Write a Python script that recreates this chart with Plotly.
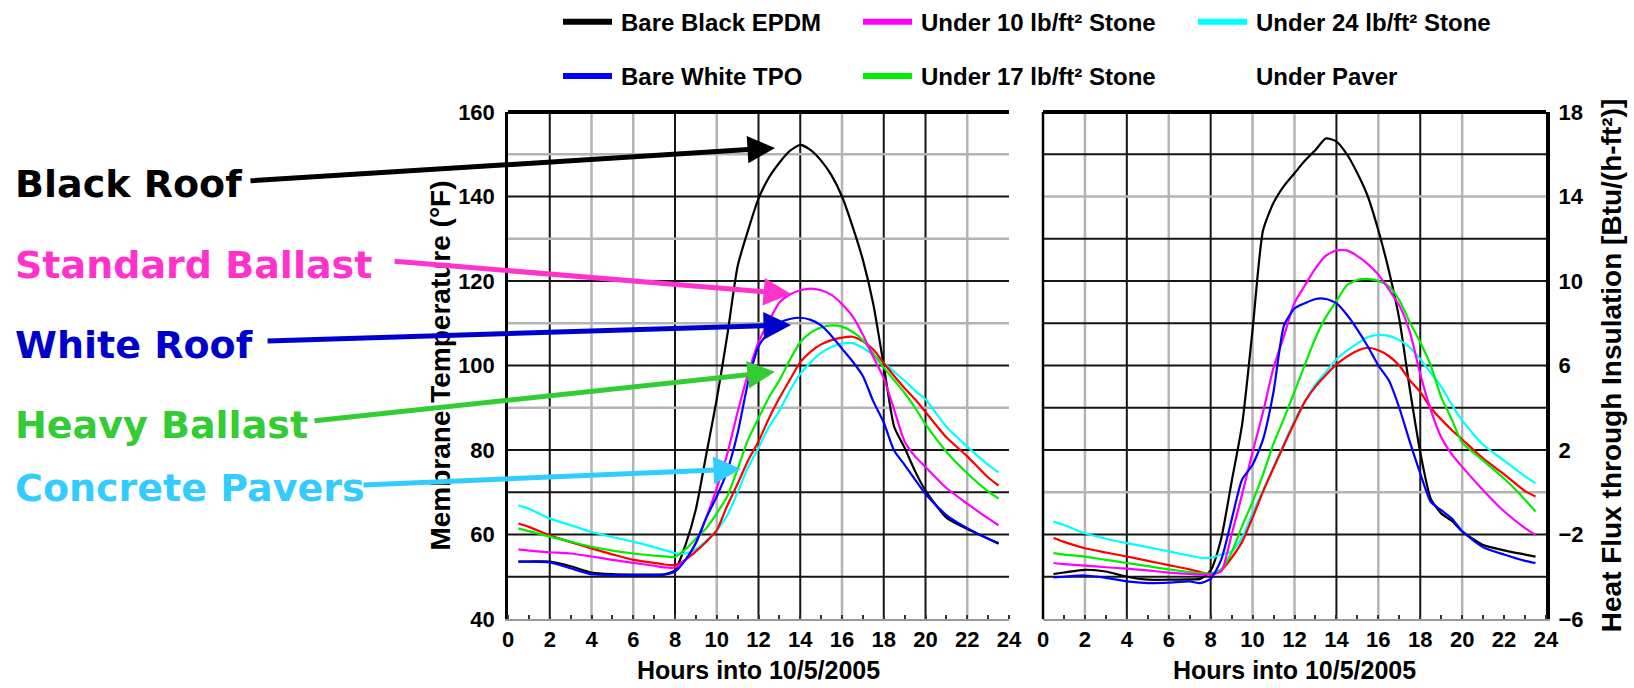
import plotly.graph_objects as go

W, H = 1634, 688

# ---------------- data ----------------
hours = [0.5, 1, 2, 3, 4, 5, 6, 7, 7.5, 8, 8.5, 9, 9.5, 10, 10.5, 11, 11.5, 12, 12.5, 13,
         13.5, 14, 14.5, 15, 15.5, 16, 16.5, 17, 17.5, 18, 18.5, 19, 19.5, 20, 21, 22, 23, 23.5]

# Membrane temperature (°F)
temp_black = [53.6, 53.6, 53.6, 52.5, 51.0, 50.6, 50.5, 50.5, 50.6, 51.5, 57.5, 66.0, 79.0, 92.0, 107.0,
              123.5, 132.0, 139.5, 144.5, 148.0, 150.8, 152.2, 151.0, 148.5, 145.0, 140.0, 133.0, 125.0,
              114.5, 100.0, 85.5, 80.5, 75.0, 70.4, 64.0, 61.3, 59.0, 57.8]
temp_white = [53.6, 53.6, 53.4, 52.0, 50.6, 50.4, 50.4, 50.4, 50.5, 51.2, 54.0, 58.0, 64.0, 69.0, 75.0,
              84.0, 96.0, 104.5, 108.0, 110.1, 111.0, 111.3, 110.8, 109.5, 107.0, 104.0, 101.0, 97.5,
              91.5, 86.5, 79.8, 76.5, 73.0, 69.6, 64.6, 61.5, 59.0, 58.0]
temp_10 = [56.5, 56.2, 55.8, 55.5, 54.8, 54.0, 53.3, 52.6, 52.2, 52.2, 54.0, 58.0, 64.0, 71.0, 79.0,
           89.0, 98.0, 105.5, 110.5, 114.9, 116.8, 117.8, 118.2, 117.8, 116.7, 114.5, 111.7, 107.3,
           102.0, 97.0, 89.5, 82.0, 78.5, 76.0, 71.0, 67.3, 63.8, 62.2]
temp_17 = [61.4, 60.8, 59.5, 58.3, 57.1, 56.2, 55.5, 55.0, 54.8, 54.7, 56.5, 59.0, 61.5, 65.0, 69.0,
           75.5, 82.5, 87.5, 92.5, 96.5, 101.3, 105.5, 107.8, 109.0, 109.5, 109.2, 108.0, 106.0,
           102.8, 99.5, 96.5, 93.5, 90.0, 86.1, 79.6, 74.5, 70.2, 68.5]
temp_24 = [66.9, 66.1, 63.8, 62.2, 60.6, 59.4, 58.3, 57.0, 56.3, 55.6, 55.5, 56.5, 58.5, 61.0, 64.5,
           70.0, 75.9, 80.5, 85.5, 89.3, 94.0, 98.0, 100.8, 103.0, 104.4, 105.2, 105.3, 104.2,
           102.5, 100.6, 98.5, 96.4, 94.0, 92.0, 85.5, 80.8, 76.5, 74.7]
temp_paver = [62.6, 61.8, 59.8, 58.2, 56.7, 55.3, 54.0, 53.3, 52.9, 52.8, 54.0, 56.0, 58.3, 61.0, 66.8,
              72.0, 77.5, 82.0, 87.5, 92.3, 96.6, 100.8, 103.3, 105.0, 106.0, 106.6, 106.8, 105.7,
              103.8, 100.6, 97.5, 94.6, 92.0, 89.0, 83.0, 78.5, 73.5, 71.6]

# Heat flux through insulation (Btu/(h-ft²))
flux_black = [-3.87, -3.8, -3.67, -3.75, -4.0, -4.14, -4.14, -4.12, -4.1, -3.7, -2.2, 0.5, 3.2, 7.7, 12.4,
              13.7, 14.5, 15.1, 15.7, 16.2, 16.75, 16.6, 16.0, 15.1, 14.0, 12.4, 10.5, 8.2, 4.9, 1.9,
              -0.3, -1.0, -1.35, -1.85, -2.5, -2.75, -2.95, -3.05]
flux_white = [-4.03, -4.0, -3.94, -4.05, -4.22, -4.3, -4.28, -4.22, -4.3, -4.1, -3.2, -1.3, 0.6, 1.3, 2.5,
              4.76, 7.9, 8.7, 8.95, 9.15, 9.15, 8.95, 8.4, 7.7, 6.9, 6.0, 5.3, 4.0, 2.4, 0.9,
              -0.45, -0.85, -1.23, -1.85, -2.6, -2.95, -3.25, -3.35]
flux_10 = [-3.35, -3.4, -3.47, -3.55, -3.62, -3.7, -3.8, -3.87, -3.9, -3.88, -3.75, -2.0, -0.1, 1.9, 3.8,
           5.9, 7.4, 8.97, 9.8, 10.6, 11.2, 11.45, 11.45, 11.18, 10.8, 10.3, 9.6, 8.85, 7.6, 5.6,
           3.9, 2.6, 1.8, 1.2, 0.1, -0.9, -1.7, -2.02]
flux_17 = [-2.88, -2.95, -3.05, -3.2, -3.35, -3.5, -3.65, -3.78, -3.83, -3.85, -3.65, -2.85, -1.6, -0.45, 0.85,
           2.3, 3.5, 4.76, 6.05, 7.3, 8.3, 9.05, 9.8, 10.05, 10.1, 10.0, 9.75, 9.1, 8.05, 7.1,
           6.0, 4.5, 3.45, 2.35, 1.5, 0.65, -0.35, -0.91]
flux_24 = [-1.39, -1.55, -1.94, -2.2, -2.41, -2.6, -2.8, -3.0, -3.1, -3.1, -2.95, -2.8, -2.15, -1.0, 0.1,
           1.2, 2.3, 3.4, 4.3, 5.1, 5.7, 6.3, 6.7, 7.05, 7.35, 7.45, 7.4, 7.2, 6.85, 6.3,
           5.65, 5.0, 4.15, 3.4, 2.25, 1.5, 0.75, 0.43]
flux_paver = [-2.17, -2.35, -2.65, -2.85, -3.04, -3.25, -3.45, -3.65, -3.78, -3.9, -3.7, -3.1, -2.35, -1.2, 0.03,
              1.15, 2.24, 3.3, 4.3, 5.0, 5.55, 6.05, 6.42, 6.7, 6.84, 6.72, 6.45, 6.0, 5.3, 4.75,
              4.0, 3.45, 2.95, 2.5, 1.6, 0.85, 0.05, -0.2]

hour_ticks = list(range(0, 25, 2))
temp_ticks = [40, 60, 80, 100, 120, 140, 160]
flux_ticks = [-6, -2, 2, 6, 10, 14, 18]

x_title = "Hours into 10/5/2005"
legend_rows = [["Bare Black EPDM", "Under 10 lb/ft² Stone", "Under 24 lb/ft² Stone"],
               ["Bare White TPO", "Under 17 lb/ft² Stone", "Under Paver"]]

callout_labels = ["Black Roof", "Standard Ballast", "White Roof", "Heavy Ballast", "Concrete Pavers"]

# ---------------- styles ----------------
series = [
    ("Bare Black EPDM", "#000000", temp_black, flux_black),
    ("Under 24 lb/ft² Stone", "#00ffff", temp_24, flux_24),
    ("Under Paver", "#ff0000", temp_paver, flux_paver),
    ("Under 17 lb/ft² Stone", "#00ee00", temp_17, flux_17),
    ("Under 10 lb/ft² Stone", "#ff00ff", temp_10, flux_10),
    ("Bare White TPO", "#0000ff", temp_white, flux_white),
]
colors = {n: c for n, c, _, _ in series}
no_swatch = {"Under Paver"}

SANS = "Liberation Sans, Arial, sans-serif"
CALLOUT_FONT = "DejaVu Sans, Verdana, sans-serif"

L_X = (508, 1009)
R_X = (1043, 1546)
Y_PX = (112, 619)


def px(x):
    return x / W


def py(y):
    return 1 - y / H


fig = go.Figure()
for name, color, t, q in series:
    fig.add_trace(go.Scatter(x=hours, y=t, name=name, mode="lines", showlegend=False,
                             line=dict(color=color, width=2.2, shape="spline", smoothing=0.6),
                             xaxis="x", yaxis="y"))
    fig.add_trace(go.Scatter(x=hours, y=q, name=name, mode="lines", showlegend=False,
                             line=dict(color=color, width=2.2, shape="spline", smoothing=0.6),
                             xaxis="x2", yaxis="y2"))

tickfont = dict(family=SANS, size=22, color="black", weight="bold")
ytitlefont = dict(family=SANS, size=28, color="black", weight="bold")

common_x = dict(range=[0, 24], tickvals=hour_ticks, ticks="", showgrid=False, zeroline=False,
                showline=True, linecolor="#9a9a9a", linewidth=1.5, tickfont=tickfont,
                ticklabelstandoff=0, automargin=False, fixedrange=True,
                minor=dict(ticks="inside", ticklen=4, tickwidth=2, tickcolor="#333", dtick=1))

fig.update_layout(
    width=W, height=H,
    margin=dict(l=0, r=0, t=0, b=0),
    paper_bgcolor="white", plot_bgcolor="white",
    showlegend=False,
    xaxis=dict(domain=[px(L_X[0]), px(L_X[1])], anchor="y", **common_x),
    xaxis2=dict(domain=[px(R_X[0]), px(R_X[1])], anchor="y2", **common_x),
    yaxis=dict(domain=[py(Y_PX[1]), py(Y_PX[0])], anchor="x", range=[40, 160], tickvals=temp_ticks,
               ticks="", showgrid=False, zeroline=False, showline=True, linecolor="black",
               linewidth=2.5, tickfont=tickfont, ticklabelstandoff=6, automargin=False,
               fixedrange=True,
               title=dict(text="Membrane Temperature (°F)", font=ytitlefont, standoff=0)),
    yaxis2=dict(domain=[py(Y_PX[1]), py(Y_PX[0])], anchor="x2", side="right", range=[-6, 18],
                tickvals=flux_ticks, ticks="", showgrid=False, zeroline=False, showline=True,
                linecolor="black", linewidth=4, tickfont=tickfont, ticklabelstandoff=4,
                automargin=False, fixedrange=True,
                title=dict(text="Heat Flux through Insulation [Btu/(h-ft²)]", font=ytitlefont,
                           standoff=20)),
)

# x-axis titles under each panel
for xa in ("x", "x2"):
    fig.add_annotation(x=0.5, y=py(670), xref=f"{xa} domain", yref="paper", text=x_title,
                       showarrow=False, xanchor="center", yanchor="middle",
                       font=dict(family=SANS, size=25, color="black", weight="bold"))

# ---------------- grid lines ----------------
GRID = {"k": dict(color="#151515", width=2), "g": dict(color="#b4b4b4", width=2.5)}
left_v = [(2, "k"), (4, "g"), (6, "g"), (8, "k"), (10, "g"), (12, "k"), (14, "k"), (16, "g"),
          (18, "k"), (20, "k"), (22, "g")]
left_h = [(50, "k"), (60, "k"), (70, "k"), (80, "k"), (90, "g"), (100, "k"), (110, "g"),
          (120, "k"), (130, "g"), (140, "k"), (150, "g")]
right_v = [(2, "g"), (4, "k"), (6, "g"), (8, "k"), (10, "g"), (12, "g"), (14, "k"), (16, "g"),
           (18, "k"), (20, "g")]
right_h = [(-4, "k"), (-2, "k"), (0, "g"), (2, "k"), (4, "k"), (6, "k"), (8, "k"), (10, "k"),
           (12, "k"), (14, "g"), (16, "k")]

for xa, ya, vlist, hlist in [("x", "y", left_v, left_h), ("x2", "y2", right_v, right_h)]:
    for v, k in vlist:
        fig.add_shape(type="line", xref=xa, yref=f"{ya} domain", x0=v, x1=v, y0=0, y1=1,
                      line=GRID[k], layer="below")
    for v, k in hlist:
        fig.add_shape(type="line", xref=f"{xa} domain", yref=ya, x0=0, x1=1, y0=v, y1=v,
                      line=GRID[k], layer="below")
    # thick top border
    fig.add_shape(type="line", xref=f"{xa} domain", yref=f"{ya} domain", x0=0, x1=1, y0=1, y1=1,
                  line=dict(color="black", width=4), layer="above")

# left border of right panel
fig.add_shape(type="line", xref="x2 domain", yref="y2 domain", x0=0, x1=0, y0=0, y1=1,
              line=dict(color="black", width=2.5), layer="above")

# ---------------- legend (top) ----------------
col_x = [563, 863, 1198]
row_y = [21.7, 76]
for r, row in enumerate(legend_rows):
    for c, name in enumerate(row):
        x0 = col_x[c]
        yy = row_y[r]
        if name not in no_swatch:
            fig.add_shape(type="line", xref="paper", yref="paper", x0=px(x0), x1=px(x0 + 49),
                          y0=py(yy), y1=py(yy), line=dict(color=colors[name], width=6))
        fig.add_annotation(x=px(x0 + 56), y=py(yy + 1), xref="paper", yref="paper", text=name,
                           showarrow=False, xanchor="left", yanchor="middle",
                           font=dict(family=SANS, size=24, color="black", weight="bold"))

# ---------------- callouts ----------------
callout_style = [
    # color, text centre y (px), arrow head (hours, °F), tail offset (px)
    ("#000000", 184, (12.79, 151.5), (-526, 33)),
    ("#ff33cc", 265, (13.56, 116.9), (-398, -33)),
    ("#0000cc", 345, (13.56, 109.6), (-525, 16)),
    ("#33cc33", 425, (12.79, 98.5), (-462, 49)),
    ("#33ccff", 488, (11.16, 75.5), (-379, 16)),
]
for label, (col, ty, head, off) in zip(callout_labels, callout_style):
    fig.add_annotation(x=px(13), y=py(ty), xref="paper", yref="paper", text=label, showarrow=False,
                       xanchor="left", yanchor="middle",
                       font=dict(family=CALLOUT_FONT, size=38, color=col, weight="bold"))
    fig.add_annotation(x=head[0], y=head[1], xref="x", yref="y", ax=off[0], ay=off[1],
                       axref="pixel", ayref="pixel", text="", showarrow=True, arrowhead=2,
                       arrowsize=1.1, arrowwidth=5, arrowcolor=col, standoff=0, startstandoff=0)

fig.write_html("out.html", config={"displayModeBar": False},
               post_script="document.body.style.margin='0';")
